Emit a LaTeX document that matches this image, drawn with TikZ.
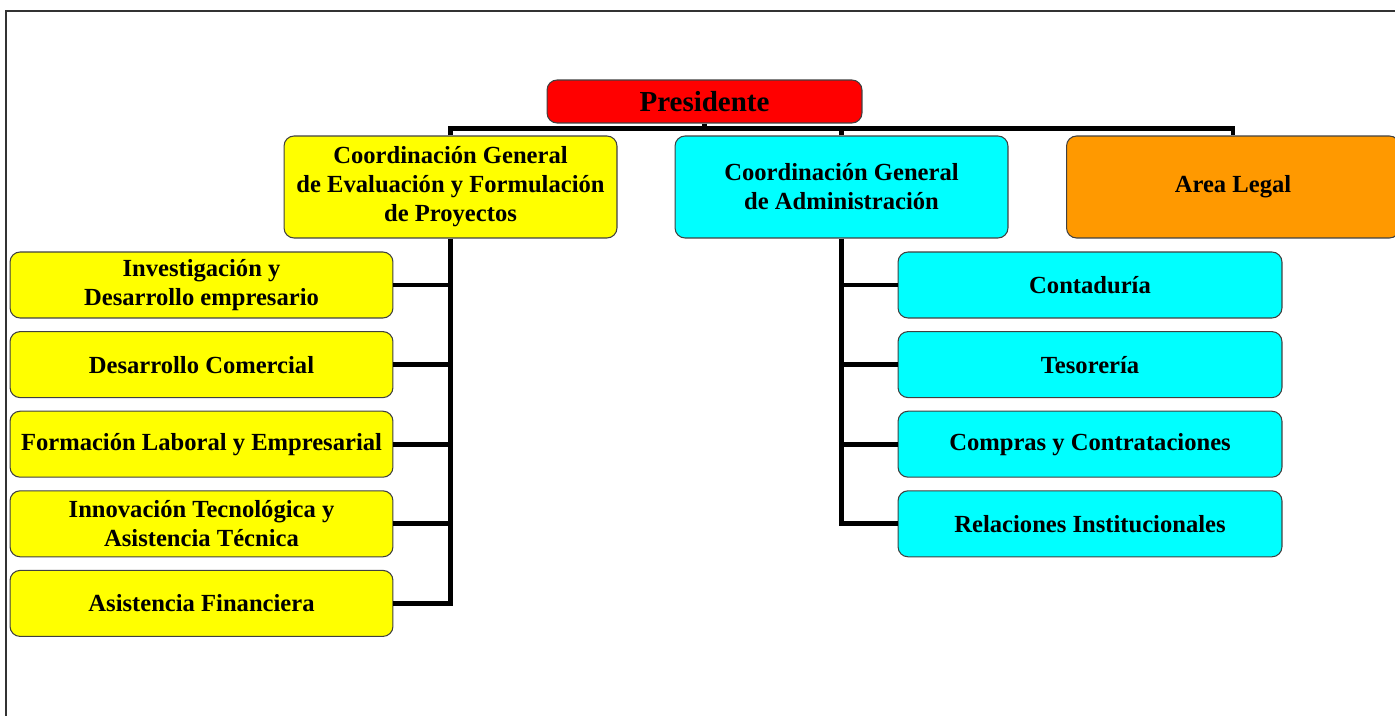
\documentclass[tikz,border=0pt]{standalone}
\usepackage{fontspec}
\setmainfont{Liberation Serif}
\usetikzlibrary{calc}
\definecolor{OrgRed}{RGB}{255,0,0}
\definecolor{OrgYellow}{RGB}{255,255,0}
\definecolor{OrgCyan}{RGB}{0,255,255}
\definecolor{OrgOrange}{RGB}{255,153,0}
\tikzset{
  unit/.style={draw=black!75, line width=0.6pt, rounded corners=0.2cm, align=center,
    inner sep=0pt, font=\bfseries\fontsize{14}{16.5}\selectfont},
  coord/.style={unit, minimum width=6.66cm, minimum height=2.04cm},
  leftunit/.style={unit, fill=OrgYellow, minimum width=7.66cm, minimum height=1.32cm},
  rightunit/.style={unit, fill=OrgCyan, minimum width=7.68cm, minimum height=1.32cm},
  link/.style={line width=2.8pt},
}

\begin{document}
\begin{tikzpicture}[x=0.02cm, y=-0.02cm]
  \useasboundingbox (0,0) rectangle (1395,716);

  % Page frame
  \draw[line width=0.8pt, black!80] (6,716) -- (6,11) -- (1395,11);

  % Top level
  \node[unit, fill=OrgRed, minimum width=6.3cm, minimum height=0.86cm,
    font=\bfseries\fontsize{16.5}{19}\selectfont] (pres) at (704.5,101.5) {Presidente};
  \node[coord, fill=OrgYellow] (cgefp) at (450.5,187)
    {Coordinación General\\de Evaluación y Formulación\\de Proyectos};
  \node[coord, fill=OrgCyan] (cga) at (841.5,187)
    {Coordinación General\\de Administración};
  \node[coord, fill=OrgOrange] (legal) at (1233,187) {Area Legal};

  % Left branch
  \foreach \name/\txt [count=\i from 0] in {
      inv/{Investigación y\\Desarrollo empresario},
      com/{Desarrollo Comercial},
      form/{Formación Laboral y Empresarial},
      innov/{Innovación Tecnológica y\\Asistencia Técnica},
      fin/{Asistencia Financiera}}
    \node[leftunit] (\name) at (201.5,285+79.6*\i) {\txt};

  % Right branch
  \foreach \name/\txt [count=\i from 0] in {
      cont/{Contaduría},
      tes/{Tesorería},
      compr/{Compras y Contrataciones},
      rel/{Relaciones Institucionales}}
    \node[rightunit] (\name) at (1090,285+79.6*\i) {\txt};

  % Connectors
  \coordinate (bar) at ($(pres.south)+(0,5)$);
  \draw[link] (pres) -- (bar);
  \draw[link] (cgefp.north) |- (bar) -| (legal.north);
  \draw[link] (cga.north) -- (cga.north |- bar);

  \draw[link] (cgefp.south) |- (fin.east);
  \foreach \n in {inv,com,form,innov}
    \draw[link] (\n.east) -- (\n.east -| cgefp.south);

  \draw[link] (cga.south) |- (rel.west);
  \foreach \n in {cont,tes,compr}
    \draw[link] (\n.west) -- (\n.west -| cga.south);
\end{tikzpicture}
\end{document}
